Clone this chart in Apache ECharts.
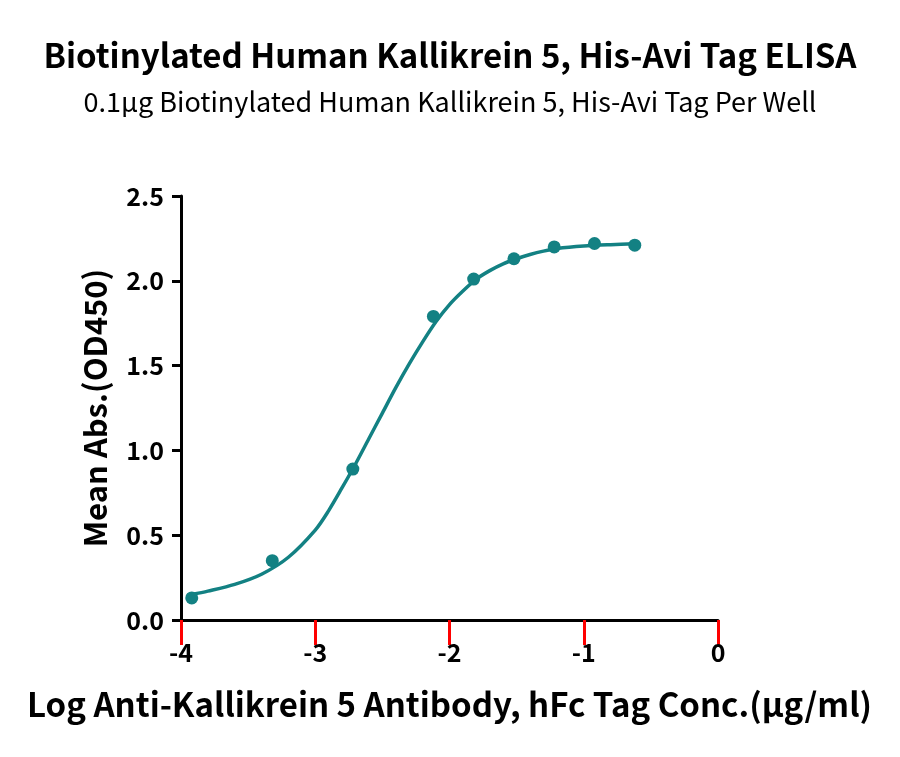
<!DOCTYPE html>
<html>
<head>
<meta charset="utf-8">
<script src="https://cdn.jsdelivr.net/npm/echarts@6/dist/echarts.min.js"></script>
<style>
  html, body { margin: 0; padding: 0; background: #fff; }
  #main { width: 900px; height: 757px; }
</style>
</head>
<body>
<div id="main"></div>
<script>
// measured points: log conc vs mean OD450
const logConc = [-3.92, -3.32, -2.72, -2.12, -1.82, -1.52, -1.22, -0.92, -0.62]
const meanAbs = [0.13, 0.35, 0.89, 1.79, 2.01, 2.13, 2.20, 2.22, 2.21]

// fitted curve
const curveX = [-3.92, -3.8, -3.6, -3.4, -3.2, -3.0, -2.9, -2.8, -2.7, -2.6, -2.5, -2.4, -2.3, -2.2, -2.1, -2.0, -1.9, -1.8, -1.7, -1.6, -1.5, -1.4, -1.3, -1.2, -1.0, -0.8, -0.62]
const curveY = [0.15, 0.17, 0.21, 0.27, 0.37, 0.53, 0.645, 0.78, 0.92, 1.07, 1.22, 1.37, 1.51, 1.64, 1.76, 1.86, 1.94, 2.01, 2.06, 2.10, 2.13, 2.155, 2.175, 2.19, 2.205, 2.213, 2.218]

const xTicks = [-4, -3, -2, -1, 0]
const yTicks = [0, 0.5, 1.0, 1.5, 2.0, 2.5]

const teal = '#138183'
const font = 'Noto Sans CJK SC'
const chart = echarts.init(document.getElementById('main'))

const option = {
  animation: false,
  title: [{
    text: 'Biotinylated Human Kallikrein 5, His-Avi Tag ELISA',
    left: 'center',
    top: 34,
    textStyle: { fontFamily: font, fontWeight: 'bold', fontSize: 33, color: '#000' }
  }, {
    text: '0.1μg Biotinylated Human Kallikrein 5, His-Avi Tag Per Well',
    left: 'center',
    top: 83,
    textStyle: { fontFamily: font, fontWeight: 'normal', fontSize: 27, color: '#000' }
  }],
  grid: { left: 181, right: 182, top: 196, bottom: 137 },
  xAxis: {
    type: 'value',
    min: xTicks[0],
    max: xTicks[xTicks.length - 1],
    interval: 1,
    name: 'Log Anti-Kallikrein 5 Antibody, hFc Tag Conc.(μg/ml)',
    nameLocation: 'middle',
    nameGap: 68,
    nameTextStyle: { fontFamily: font, fontWeight: 'bold', fontSize: 33, color: '#000' },
    axisLine: { show: true, onZero: false, lineStyle: { color: '#000', width: 3 } },
    axisTick: { show: true, length: 25, lineStyle: { color: 'red', width: 3 } },
    axisLabel: {
      margin: 20,
      fontFamily: font,
      fontWeight: 'bold',
      fontSize: 25,
      color: '#000'
    },
    splitLine: { show: false }
  },
  yAxis: {
    type: 'value',
    min: 0,
    max: yTicks[yTicks.length - 1],
    interval: 0.5,
    name: 'Mean Abs.(OD450)',
    nameLocation: 'middle',
    nameGap: 70,
    nameTextStyle: { fontFamily: font, fontWeight: 'bold', fontSize: 31, color: '#000' },
    axisLine: { show: true, onZero: false, lineStyle: { color: '#000', width: 3 } },
    axisTick: { show: true, length: 9, lineStyle: { color: '#000', width: 3 } },
    axisLabel: {
      margin: 17,
      fontFamily: font,
      fontWeight: 'bold',
      fontSize: 25,
      color: '#000',
      formatter: v => v.toFixed(1)
    },
    splitLine: { show: false }
  },
  series: [{
    name: 'fit',
    type: 'line',
    data: curveX.map((x, i) => [x, curveY[i]]),
    smooth: 0.3,
    showSymbol: false,
    lineStyle: { color: teal, width: 3.5 },
    z: 2
  }, {
    name: 'data',
    type: 'scatter',
    data: logConc.map((x, i) => [x, meanAbs[i]]),
    symbol: 'circle',
    symbolSize: 13,
    itemStyle: { color: teal, opacity: 1 },
    z: 3
  }]
}

chart.setOption(option)
</script>
</body>
</html>
